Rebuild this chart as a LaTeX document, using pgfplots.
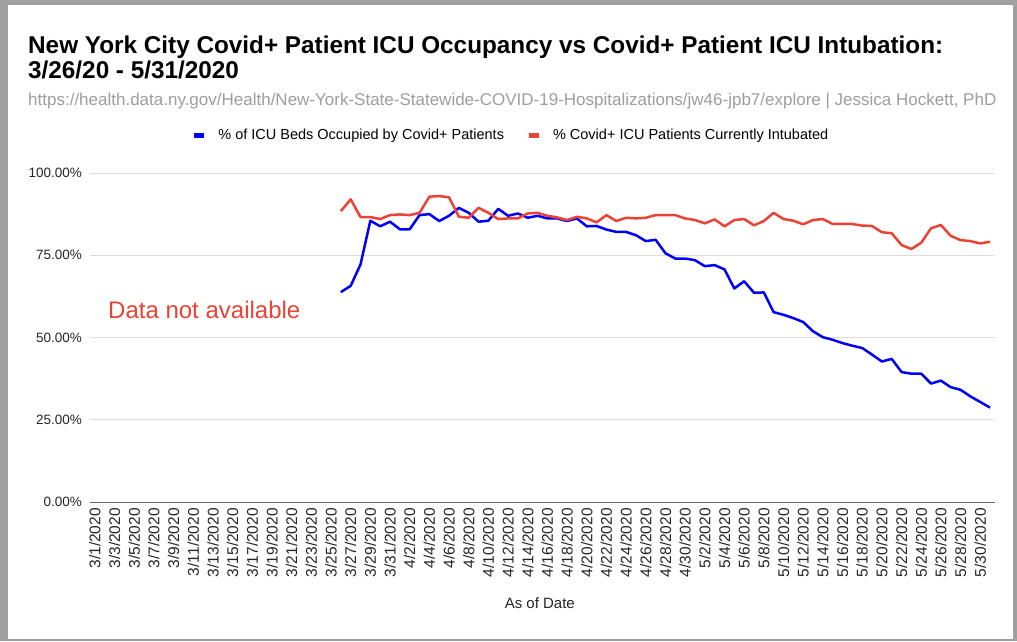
\documentclass[border=0pt]{standalone}
\usepackage{fontspec}
\setmainfont{Liberation Sans}
\usepackage{pgfplots}
\pgfplotsset{compat=1.18}
\usepackage{pgfplotstable}
\definecolor{gline}{RGB}{0,0,255}
\definecolor{rline}{RGB}{234,67,53}
\definecolor{subgray}{RGB}{158,158,158}
\definecolor{gridgray}{RGB}{220,220,220}
\definecolor{framegray}{RGB}{160,160,160}

\pgfplotstableread{
day blue red
25 63.8 88.4
26 65.7 92.0
27 72.2 86.6
28 85.5 86.6
29 83.8 86.0
30 85.2 87.2
31 82.9 87.4
32 82.9 87.2
33 87.2 87.9
34 87.5 92.8
35 85.4 93.0
36 87.0 92.6
37 89.4 86.7
38 87.9 86.4
39 85.2 89.4
40 85.5 87.9
41 89.1 86.0
42 87.0 86.2
43 87.7 86.2
44 86.4 87.7
45 87.0 87.9
46 86.2 87.0
47 86.2 86.5
48 85.4 85.7
49 86.2 86.7
50 83.8 86.2
51 83.9 85.0
52 82.8 87.2
53 82.1 85.4
54 82.1 86.4
55 81.1 86.2
56 79.3 86.4
57 79.7 87.2
58 75.6 87.2
59 74.0 87.2
60 74.0 86.2
61 73.5 85.7
62 71.7 84.7
63 72.0 85.9
64 70.7 83.8
65 64.9 85.7
66 67.1 86.0
67 63.6 84.1
68 63.7 85.4
69 57.7 87.9
70 56.9 86.0
71 55.9 85.5
72 54.7 84.4
73 51.9 85.7
74 50.1 86.0
75 49.3 84.5
76 48.3 84.5
77 47.5 84.5
78 46.8 84.0
79 44.8 83.9
80 42.7 82.0
81 43.5 81.7
82 39.5 78.1
83 39.0 76.9
84 39.0 78.8
85 36.0 83.2
86 36.9 84.2
87 34.9 80.9
88 34.1 79.6
89 32.1 79.3
90 30.4 78.6
91 28.7 79.1
}\icudata

\begin{document}
\begin{tikzpicture}
% frame / background
\fill[framegray] (0,0) rectangle (1017pt,641pt);
\fill[white] (8pt,2pt) rectangle (1013pt,636pt);

% titles
\node[anchor=base west, inner sep=0pt, font=\bfseries\fontsize{24.3}{26}\selectfont] at (28pt,587pt)
  {New York City Covid+ Patient ICU Occupancy vs Covid+ Patient ICU Intubation:};
\node[anchor=base west, inner sep=0pt, font=\bfseries\fontsize{24.3}{26}\selectfont] at (28pt,562pt)
  {3/26/20 - 5/31/2020};
\node[anchor=base west, inner sep=0pt, text=subgray, font=\fontsize{17}{19}\selectfont] at (28pt,535pt)
  {https://health.data.ny.gov/Health/New-York-State-Statewide-COVID-19-Hospitalizations/jw46-jpb7/explore | Jessica Hockett, PhD};

\begin{axis}[
  at={(90pt,139pt)}, anchor=south west,
  scale only axis, width=905pt, height=329pt,
  xmin=-0.5, xmax=91.5, ymin=0, ymax=100,
  axis line style={draw=none},
  major tick length=0pt,
  ytick={0,25,50,75,100},
  ymajorgrids, grid style={gridgray, line width=1pt},
  /pgf/number format/assume math mode=true,
  yticklabel={\pgfmathprintnumber[fixed,fixed zerofill,precision=2]{\tick}\%},
  yticklabel style={font=\fontsize{13.5}{16}\selectfont, text=black!85, inner sep=0pt, xshift=-8pt},
  xtick={0,2,...,90},
  xticklabels={3/1/2020,3/3/2020,3/5/2020,3/7/2020,3/9/2020,3/11/2020,3/13/2020,3/15/2020,3/17/2020,3/19/2020,3/21/2020,3/23/2020,3/25/2020,3/27/2020,3/29/2020,3/31/2020,4/2/2020,4/4/2020,4/6/2020,4/8/2020,4/10/2020,4/12/2020,4/14/2020,4/16/2020,4/18/2020,4/20/2020,4/22/2020,4/24/2020,4/26/2020,4/28/2020,4/30/2020,5/2/2020,5/4/2020,5/6/2020,5/8/2020,5/10/2020,5/12/2020,5/14/2020,5/16/2020,5/18/2020,5/20/2020,5/22/2020,5/24/2020,5/26/2020,5/28/2020,5/30/2020},
  xticklabel style={rotate=90, anchor=east, inner sep=0pt, font=\fontsize{15.5}{17}\selectfont, text=black!85},
  xticklabel shift=6pt,
  xlabel={As of Date},
  xlabel style={at={(axis description cs:0.497,-0.307)}, anchor=center, font=\fontsize{15}{17}\selectfont, text=black!85},
  legend columns=2,
  legend style={draw=none, fill=none, at={(0.465,1.1155)}, anchor=center,
    font=\fontsize{14.5}{16}\selectfont,
    /tikz/every odd column/.append style={column sep=10pt},
    /tikz/every even column/.append style={column sep=20pt}},
  legend image code/.code={\draw[#1, line width=5pt] (0pt,0pt) -- (10pt,0pt);},
]
\draw[black!60, line width=1pt] (axis cs:-0.5,0) -- (axis cs:91.5,0);
\addplot[gline, line width=2.5pt, line join=round] table[x=day, y=blue] {\icudata};
\addlegendentry{\% of ICU Beds Occupied by Covid+ Patients}
\addplot[rline, line width=2.5pt, line join=round] table[x=day, y=red] {\icudata};
\addlegendentry{\% Covid+ ICU Patients Currently Intubated}
\node[anchor=west, inner sep=0pt, text=rline, font=\fontsize{24}{26}\selectfont] at (axis cs:1.33,58.4) {Data not available};
\end{axis}
\pgfresetboundingbox
\path[use as bounding box] (0,0) rectangle (1017pt,641pt);
\end{tikzpicture}
\end{document}
